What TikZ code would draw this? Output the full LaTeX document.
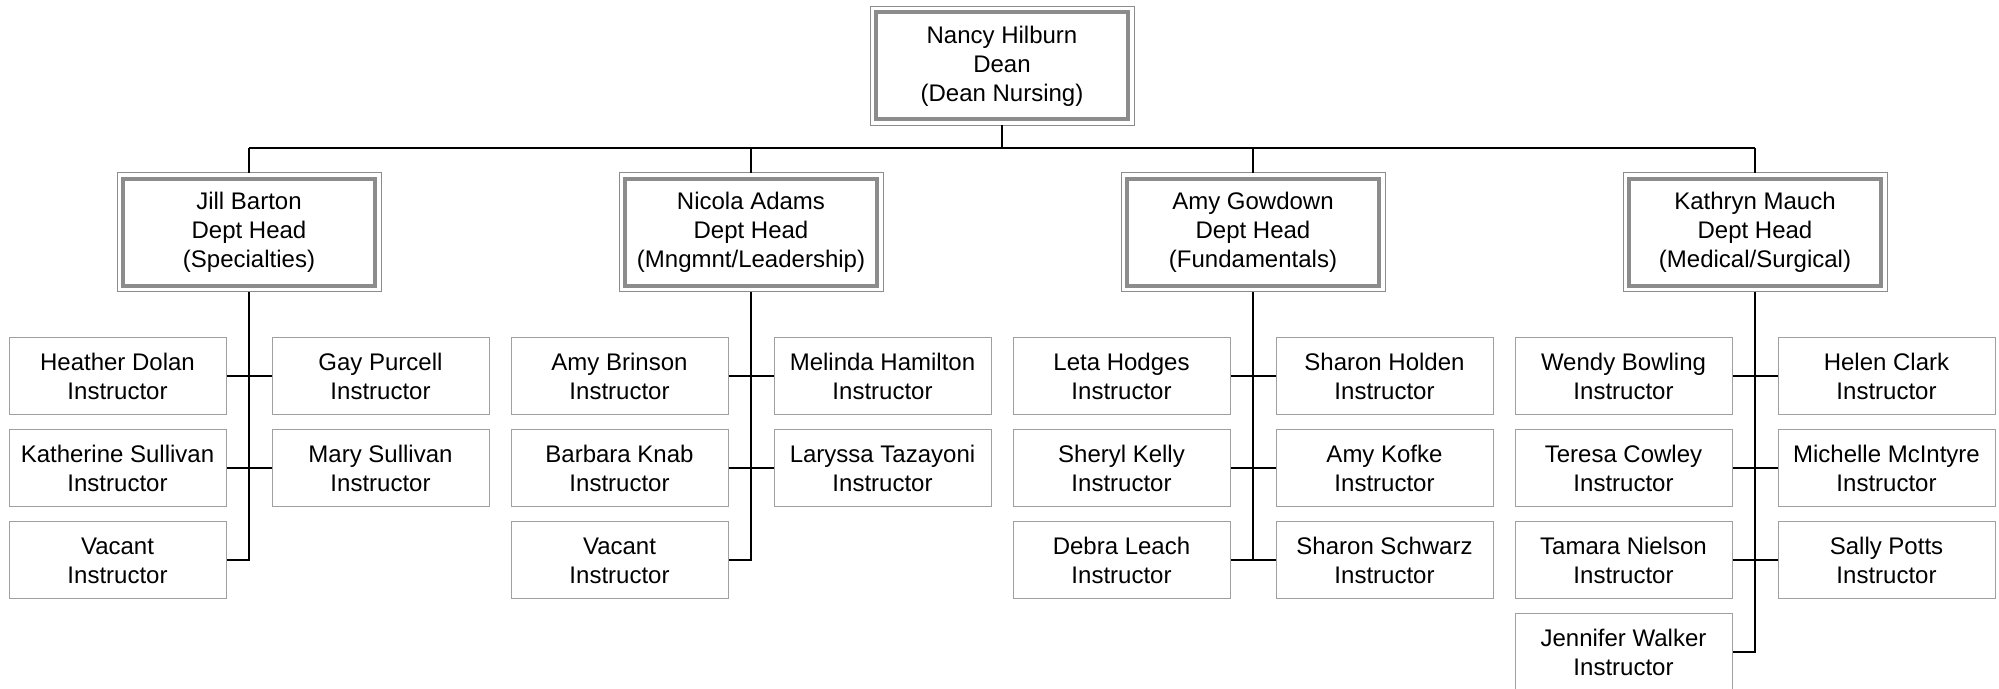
\documentclass[tikz,border=0pt]{standalone}
\usepackage{fontspec}
\setmainfont{Liberation Sans}
\definecolor{boxgray}{HTML}{A0A0A0}
\definecolor{headgray}{HTML}{8C8C8C}
\begin{document}
\begin{tikzpicture}[x=0.5pt,y=-0.5pt,
  every node/.style={font=\fontsize{12}{14.5}\selectfont, align=center, inner sep=0pt},
  inst/.style={draw=boxgray, line width=0.5pt, minimum width=108.5pt, minimum height=38.5pt},
  headbox/.style={draw=headgray, line width=2pt, minimum width=126pt, minimum height=53.5pt, outer sep=3pt},
  conn/.style={draw=black, line width=1pt}]
\useasboundingbox (0,0) rectangle (1999,689);

% Dean
\node[headbox] (dean) at (1002,66) {Nancy Hilburn\\Dean\\(Dean Nursing)};

% Dept heads
\node[headbox] (h1) at (249,232.5) {Jill Barton\\Dept Head\\(Specialties)};
\node[headbox] (h2) at (751,232.5) {Nicola Adams\\Dept Head\\(Mngmnt/Leadership)};
\node[headbox] (h3) at (1253,232.5) {Amy Gowdown\\Dept Head\\(Fundamentals)};
\node[headbox] (h4) at (1755,232.5) {Kathryn Mauch\\Dept Head\\(Medical/Surgical)};

\foreach \n in {dean,h1,h2,h3,h4}
  \draw[headgray, line width=0.5pt] (\n.north west) rectangle (\n.south east);

% bus
\coordinate (bus) at (1002,148);
\draw[conn] (dean.south) -- (bus);
\draw[conn] (h1.north |- bus) -- (h4.north |- bus);
\foreach \n in {h1,h2,h3,h4}
  \draw[conn] (\n.north) -- (\n.north |- bus);

% Dept 1
\node[inst] (a1) at (117.5,376.5) {Heather Dolan\\Instructor};
\node[inst] (b1) at (380.5,376.5) {Gay Purcell\\Instructor};
\node[inst] (a2) at (117.5,468.5) {Katherine Sullivan\\Instructor};
\node[inst] (b2) at (380.5,468.5) {Mary Sullivan\\Instructor};
\node[inst] (a3) at (117.5,560.5) {Vacant\\Instructor};
\draw[conn] (h1.south) -- (h1.south |- a3.east) -- (a3.east);
\draw[conn] (a1.east) -- (b1.west);
\draw[conn] (a2.east) -- (b2.west);

% Dept 2
\node[inst] (c1) at (619.5,376.5) {Amy Brinson\\Instructor};
\node[inst] (d1) at (882.5,376.5) {Melinda Hamilton\\Instructor};
\node[inst] (c2) at (619.5,468.5) {Barbara Knab\\Instructor};
\node[inst] (d2) at (882.5,468.5) {Laryssa Tazayoni\\Instructor};
\node[inst] (c3) at (619.5,560.5) {Vacant\\Instructor};
\draw[conn] (h2.south) -- (h2.south |- c3.east) -- (c3.east);
\draw[conn] (c1.east) -- (d1.west);
\draw[conn] (c2.east) -- (d2.west);

% Dept 3
\node[inst] (e1) at (1121.5,376.5) {Leta Hodges\\Instructor};
\node[inst] (f1) at (1384.5,376.5) {Sharon Holden\\Instructor};
\node[inst] (e2) at (1121.5,468.5) {Sheryl Kelly\\Instructor};
\node[inst] (f2) at (1384.5,468.5) {Amy Kofke\\Instructor};
\node[inst] (e3) at (1121.5,560.5) {Debra Leach\\Instructor};
\node[inst] (f3) at (1384.5,560.5) {Sharon Schwarz\\Instructor};
\draw[conn] (h3.south) -- (h3.south |- e3.east);
\draw[conn] (e1.east) -- (f1.west);
\draw[conn] (e2.east) -- (f2.west);
\draw[conn] (e3.east) -- (f3.west);

% Dept 4
\node[inst] (g1) at (1623.5,376.5) {Wendy Bowling\\Instructor};
\node[inst] (k1) at (1886.5,376.5) {Helen Clark\\Instructor};
\node[inst] (g2) at (1623.5,468.5) {Teresa Cowley\\Instructor};
\node[inst] (k2) at (1886.5,468.5) {Michelle McIntyre\\Instructor};
\node[inst] (g3) at (1623.5,560.5) {Tamara Nielson\\Instructor};
\node[inst] (k3) at (1886.5,560.5) {Sally Potts\\Instructor};
\node[inst] (g4) at (1623.5,652.5) {Jennifer Walker\\Instructor};
\draw[conn] (h4.south) -- (h4.south |- g4.east) -- (g4.east);
\draw[conn] (g1.east) -- (k1.west);
\draw[conn] (g2.east) -- (k2.west);
\draw[conn] (g3.east) -- (k3.west);
\end{tikzpicture}
\end{document}
